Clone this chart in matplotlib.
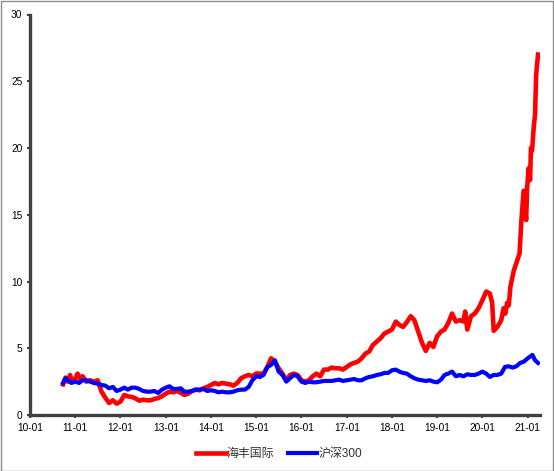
import numpy as np
import pandas as pd
import matplotlib
matplotlib.use("Agg")
import matplotlib.pyplot as plt
import matplotlib.dates as mdates
from matplotlib.patches import Rectangle

plt.rcParams['font.family'] = ['Liberation Sans', 'Noto Sans CJK SC', 'DejaVu Sans']

# 海丰国际 (red)
hf_dates = [
    "2010-09-25", "2010-10-15", "2010-11-01", "2010-11-20", "2010-12-10",
    "2011-01-01", "2011-01-20", "2011-02-15", "2011-03-01", "2011-04-01",
    "2011-05-01", "2011-06-01", "2011-07-01", "2011-08-01", "2011-09-01",
    "2011-10-01", "2011-11-01", "2011-12-01", "2012-01-01", "2012-02-01",
    "2012-03-01", "2012-04-01", "2012-05-01", "2012-06-01", "2012-07-01",
    "2012-08-01", "2012-09-01", "2012-10-01", "2012-11-01", "2012-12-01",
    "2013-01-01", "2013-02-01", "2013-03-01", "2013-04-01", "2013-05-01",
    "2013-06-01", "2013-07-01", "2013-08-01", "2013-09-01", "2013-10-01",
    "2013-11-01", "2013-12-01", "2014-01-01", "2014-02-01", "2014-03-01",
    "2014-04-01", "2014-05-01", "2014-06-01", "2014-07-01", "2014-08-01",
    "2014-09-01", "2014-10-01", "2014-11-01", "2014-12-01", "2015-01-01",
    "2015-02-01", "2015-03-01", "2015-04-01", "2015-05-01", "2015-06-01",
    "2015-07-01", "2015-08-01", "2015-09-01", "2015-10-01", "2015-11-01",
    "2015-12-01", "2016-01-01", "2016-02-01", "2016-03-01", "2016-04-01",
    "2016-05-01", "2016-06-01", "2016-07-01", "2016-08-01", "2016-09-01",
    "2016-10-01", "2016-11-01", "2016-12-01", "2017-01-01", "2017-02-01",
    "2017-03-01", "2017-04-01", "2017-05-01", "2017-06-01", "2017-07-01",
    "2017-08-01", "2017-09-01", "2017-10-01", "2017-11-01", "2017-12-01",
    "2018-01-01", "2018-02-01", "2018-03-01", "2018-04-01", "2018-05-01",
    "2018-06-01", "2018-07-01", "2018-08-01", "2018-09-01", "2018-10-01",
    "2018-11-01", "2018-12-01", "2019-01-01", "2019-02-01", "2019-03-01",
    "2019-04-01", "2019-05-01", "2019-06-01", "2019-07-01", "2019-08-01",
    "2019-08-15", "2019-09-01", "2019-10-01", "2019-11-01", "2019-12-01",
    "2020-01-01", "2020-02-01", "2020-03-01", "2020-03-20", "2020-04-01",
    "2020-05-01", "2020-06-01", "2020-06-20", "2020-07-05", "2020-07-18",
    "2020-08-01", "2020-08-14", "2020-09-10", "2020-10-09", "2020-10-27",
    "2020-11-11", "2020-11-29", "2020-12-19", "2020-12-27", "2021-01-09",
    "2021-01-20", "2021-01-27", "2021-02-05", "2021-02-18", "2021-03-01",
    "2021-03-10", "2021-03-25",
]
hf_values = [
    2.3, 2.8, 2.5, 3.0, 2.5,
    2.7, 3.1, 2.6, 2.9, 2.5,
    2.6, 2.5, 2.6, 1.75, 1.3,
    0.9, 1.1, 0.85, 1.0, 1.5,
    1.4, 1.35, 1.25, 1.07, 1.15,
    1.1, 1.1, 1.2, 1.27, 1.4,
    1.6, 1.75, 1.7, 1.8, 1.67,
    1.5, 1.6, 1.8, 1.9, 1.85,
    2.0, 2.1, 2.25, 2.4, 2.3,
    2.4, 2.35, 2.3, 2.2, 2.4,
    2.75, 2.9, 3.0, 2.9, 3.1,
    3.1, 3.1, 3.6, 4.25, 4.0,
    3.5, 3.1, 2.6, 3.0, 3.1,
    3.0, 2.6, 2.5, 2.6, 2.9,
    3.1, 2.9, 3.4, 3.4, 3.55,
    3.5, 3.5, 3.4, 3.6, 3.8,
    3.9, 4.0, 4.25, 4.6, 4.75,
    5.25, 5.5, 5.75, 6.1, 6.25,
    6.4, 7.0, 6.75, 6.6, 6.95,
    7.4, 7.1, 6.25, 5.4, 4.8,
    5.4, 5.1, 5.9, 6.25, 6.4,
    6.9, 7.6, 7.0, 7.1, 7.0,
    7.75, 6.4, 7.4, 7.6, 8.0,
    8.6, 9.25, 9.1, 8.4, 6.3,
    6.6, 7.1, 8.0, 7.6, 8.4,
    8.2, 9.6, 10.8, 11.6, 12.1,
    14.6, 16.8, 14.6, 17.0, 18.5,
    17.6, 20.0, 19.8, 21.5, 22.5,
    25.5, 27.0,
]

# 沪深300 (blue)
hs_dates = [
    "2010-09-25", "2010-10-15", "2010-12-01", "2011-01-01", "2011-02-01",
    "2011-03-01", "2011-04-01", "2011-05-01", "2011-06-01", "2011-07-01",
    "2011-08-01", "2011-09-01", "2011-10-01", "2011-11-01", "2011-12-01",
    "2012-01-01", "2012-02-01", "2012-03-01", "2012-04-01", "2012-05-01",
    "2012-06-01", "2012-07-01", "2012-08-01", "2012-09-01", "2012-10-01",
    "2012-11-01", "2012-12-01", "2013-01-01", "2013-02-01", "2013-03-01",
    "2013-04-01", "2013-05-01", "2013-06-01", "2013-07-01", "2013-08-01",
    "2013-09-01", "2013-10-01", "2013-11-01", "2013-12-01", "2014-01-01",
    "2014-02-01", "2014-03-01", "2014-04-01", "2014-05-01", "2014-06-01",
    "2014-07-01", "2014-08-01", "2014-09-01", "2014-10-01", "2014-11-01",
    "2014-12-01", "2015-01-01", "2015-02-01", "2015-03-01", "2015-04-01",
    "2015-05-01", "2015-06-01", "2015-07-01", "2015-08-01", "2015-09-01",
    "2015-10-01", "2015-11-01", "2015-12-01", "2016-01-01", "2016-02-01",
    "2016-03-01", "2016-04-01", "2016-05-01", "2016-06-01", "2016-07-01",
    "2016-08-01", "2016-09-01", "2016-10-01", "2016-11-01", "2016-12-01",
    "2017-01-01", "2017-02-01", "2017-03-01", "2017-04-01", "2017-05-01",
    "2017-06-01", "2017-07-01", "2017-08-01", "2017-09-01", "2017-10-01",
    "2017-11-01", "2017-12-01", "2018-01-01", "2018-02-01", "2018-03-01",
    "2018-04-01", "2018-05-01", "2018-06-01", "2018-07-01", "2018-08-01",
    "2018-09-01", "2018-10-01", "2018-11-01", "2018-12-01", "2019-01-01",
    "2019-02-01", "2019-03-01", "2019-04-01", "2019-05-01", "2019-06-01",
    "2019-07-01", "2019-08-01", "2019-09-01", "2019-10-01", "2019-11-01",
    "2019-12-01", "2020-01-01", "2020-02-01", "2020-03-01", "2020-04-01",
    "2020-05-01", "2020-06-01", "2020-07-01", "2020-08-01", "2020-09-01",
    "2020-10-01", "2020-11-01", "2020-12-01", "2021-01-01", "2021-02-08",
    "2021-03-01", "2021-03-25",
]
hs_values = [
    2.4, 2.75, 2.4, 2.5, 2.4,
    2.6, 2.6, 2.5, 2.4, 2.35,
    2.25, 2.2, 2.0, 2.1, 1.8,
    1.9, 2.05, 1.9, 2.05, 2.05,
    1.95, 1.8, 1.75, 1.75, 1.8,
    1.65, 1.9, 2.05, 2.15, 1.95,
    1.95, 2.0, 1.75, 1.75, 1.8,
    1.9, 1.9, 1.95, 1.8, 1.85,
    1.8, 1.7, 1.75, 1.7, 1.7,
    1.75, 1.85, 1.9, 1.9, 2.1,
    2.6, 2.9, 2.85, 3.0, 3.6,
    3.75, 4.1, 3.25, 3.0, 2.5,
    2.75, 3.0, 2.9, 2.5, 2.4,
    2.5, 2.45, 2.45, 2.5, 2.55,
    2.55, 2.55, 2.6, 2.65, 2.55,
    2.6, 2.65, 2.7, 2.6, 2.6,
    2.75, 2.85, 2.9, 3.0, 3.05,
    3.15, 3.15, 3.35, 3.4, 3.25,
    3.15, 3.1, 2.9, 2.75, 2.65,
    2.6, 2.55, 2.6, 2.5, 2.45,
    2.65, 3.0, 3.1, 3.25, 2.9,
    3.0, 2.9, 3.05, 3.0, 3.0,
    3.1, 3.25, 3.1, 2.85, 3.0,
    3.0, 3.1, 3.6, 3.65, 3.55,
    3.65, 3.9, 4.0, 4.25, 4.5,
    4.1, 3.9,
]

year_ticks = [f"{y}-01-01" for y in range(2010, 2022)]

fig = plt.figure(figsize=(5.54, 4.71), dpi=100)
ax = fig.add_axes([30 / 554, 56 / 471, 510 / 554, 400.5 / 471])

ax.plot(pd.to_datetime(hf_dates), hf_values, color="#ff0000", lw=3.3,
        label="海丰国际", solid_joinstyle="round")
ax.plot(pd.to_datetime(hs_dates), hs_values, color="#0000ff", lw=3.0,
        label="沪深300", solid_joinstyle="round")

ax.set_ylim(0, 30)
ax.set_yticks(np.arange(0, 31, 5))
ax.set_xlim(pd.Timestamp("2010-01-01"), pd.Timestamp("2021-04-10"))
ax.set_xticks(pd.to_datetime(year_ticks))
ax.xaxis.set_major_formatter(mdates.DateFormatter("%y-%m"))

for side in ["top", "right"]:
    ax.spines[side].set_visible(False)
for side in ["left", "bottom"]:
    ax.spines[side].set_color("#404040")
    ax.spines[side].set_linewidth(2.4)
ax.tick_params(axis="both", colors="#404040", length=2.5, width=1.5,
               labelsize=7.3, labelcolor="black", pad=3)

ax.legend(loc="center", bbox_to_anchor=(279 / 554, 17 / 471),
          bbox_transform=fig.transFigure, ncol=2, frameon=False,
          fontsize=8.6, handlelength=2.5, handletextpad=0.1,
          columnspacing=1.1, labelcolor="#333333")

fig.patches.append(Rectangle((0.5 / 554, 0.5 / 471), 552.5 / 554, 469.5 / 471,
                             transform=fig.transFigure, fill=False,
                             edgecolor="#8c8c8c", lw=1))

fig.savefig("out.png", dpi=100)
